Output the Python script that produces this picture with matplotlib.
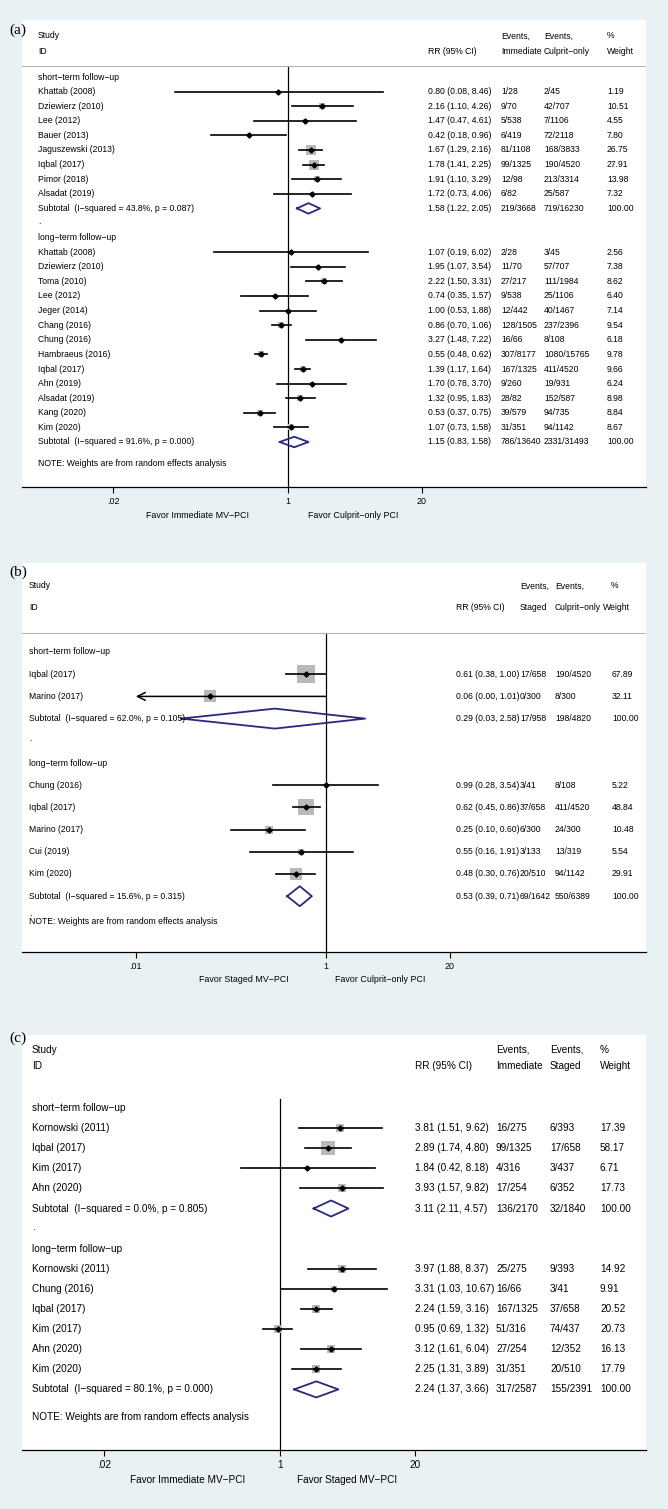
import numpy as np
import matplotlib
matplotlib.use('Agg')
import matplotlib.pyplot as plt
from matplotlib import transforms

plt.rcParams['font.family'] = ['Liberation Sans', 'DejaVu Sans']

M = '\u2212'  # Stata draws hyphens as minus signs

# ---------------- panel (a): immediate MV-PCI vs culprit-only ----------------
a_short_names = ['Khattab (2008)', 'Dziewierz (2010)', 'Lee (2012)', 'Bauer (2013)',
                 'Jaguszewski (2013)', 'Iqbal (2017)', 'Pimor (2018)', 'Alsadat (2019)']
a_short_rr = [0.80, 2.16, 1.47, 0.42, 1.67, 1.78, 1.91, 1.72]
a_short_lo = [0.08, 1.10, 0.47, 0.18, 1.29, 1.41, 1.10, 0.73]
a_short_hi = [8.46, 4.26, 4.61, 0.96, 2.16, 2.25, 3.29, 4.06]
a_short_ev1 = ['1/28', '9/70', '5/538', '6/419', '81/1108', '99/1325', '12/98', '6/82']
a_short_ev2 = ['2/45', '42/707', '7/1106', '72/2118', '168/3833', '190/4520', '213/3314', '25/587']
a_short_w = [1.19, 10.51, 4.55, 7.80, 26.75, 27.91, 13.98, 7.32]
a_short_sub = ['Subtotal  (I' + M + 'squared = 43.8%, p = 0.087)', 1.58, 1.22, 2.05, '219/3668', '719/16230']

a_long_names = ['Khattab (2008)', 'Dziewierz (2010)', 'Toma (2010)', 'Lee (2012)', 'Jeger (2014)',
                'Chang (2016)', 'Chung (2016)', 'Hambraeus (2016)', 'Iqbal (2017)', 'Ahn (2019)',
                'Alsadat (2019)', 'Kang (2020)', 'Kim (2020)']
a_long_rr = [1.07, 1.95, 2.22, 0.74, 1.00, 0.86, 3.27, 0.55, 1.39, 1.70, 1.32, 0.53, 1.07]
a_long_lo = [0.19, 1.07, 1.50, 0.35, 0.53, 0.70, 1.48, 0.48, 1.17, 0.78, 0.95, 0.37, 0.73]
a_long_hi = [6.02, 3.54, 3.31, 1.57, 1.88, 1.06, 7.22, 0.62, 1.64, 3.70, 1.83, 0.75, 1.58]
a_long_ev1 = ['2/28', '11/70', '27/217', '9/538', '12/442', '128/1505', '16/66', '307/8177',
              '167/1325', '9/260', '28/82', '39/579', '31/351']
a_long_ev2 = ['3/45', '57/707', '111/1984', '25/1106', '40/1467', '237/2396', '8/108', '1080/15765',
              '411/4520', '19/931', '152/587', '94/735', '94/1142']
a_long_w = [2.56, 7.38, 8.62, 6.40, 7.14, 9.54, 6.18, 9.78, 9.66, 6.24, 8.98, 8.84, 8.67]
a_long_sub = ['Subtotal  (I' + M + 'squared = 91.6%, p = 0.000)', 1.15, 0.83, 1.58, '786/13640', '2331/31493']

# ---------------- panel (b): staged MV-PCI vs culprit-only ----------------
b_short_names = ['Iqbal (2017)', 'Marino (2017)']
b_short_rr = [0.61, 0.06]
b_short_lo = [0.38, 0.00]
b_short_hi = [1.00, 1.01]
b_short_ev1 = ['17/658', '0/300']
b_short_ev2 = ['190/4520', '8/300']
b_short_w = [67.89, 32.11]
b_short_sub = ['Subtotal  (I' + M + 'squared = 62.0%, p = 0.105)', 0.29, 0.03, 2.58, '17/958', '198/4820']

b_long_names = ['Chung (2016)', 'Iqbal (2017)', 'Marino (2017)', 'Cui (2019)', 'Kim (2020)']
b_long_rr = [0.99, 0.62, 0.25, 0.55, 0.48]
b_long_lo = [0.28, 0.45, 0.10, 0.16, 0.30]
b_long_hi = [3.54, 0.86, 0.60, 1.91, 0.76]
b_long_ev1 = ['3/41', '37/658', '6/300', '3/133', '20/510']
b_long_ev2 = ['8/108', '411/4520', '24/300', '13/319', '94/1142']
b_long_w = [5.22, 48.84, 10.48, 5.54, 29.91]
b_long_sub = ['Subtotal  (I' + M + 'squared = 15.6%, p = 0.315)', 0.53, 0.39, 0.71, '69/1642', '550/6389']

# ---------------- panel (c): immediate vs staged MV-PCI ----------------
c_short_names = ['Kornowski (2011)', 'Iqbal (2017)', 'Kim (2017)', 'Ahn (2020)']
c_short_rr = [3.81, 2.89, 1.84, 3.93]
c_short_lo = [1.51, 1.74, 0.42, 1.57]
c_short_hi = [9.62, 4.80, 8.18, 9.82]
c_short_ev1 = ['16/275', '99/1325', '4/316', '17/254']
c_short_ev2 = ['6/393', '17/658', '3/437', '6/352']
c_short_w = [17.39, 58.17, 6.71, 17.73]
c_short_sub = ['Subtotal  (I' + M + 'squared = 0.0%, p = 0.805)', 3.11, 2.11, 4.57, '136/2170', '32/1840']

c_long_names = ['Kornowski (2011)', 'Chung (2016)', 'Iqbal (2017)', 'Kim (2017)', 'Ahn (2020)', 'Kim (2020)']
c_long_rr = [3.97, 3.31, 2.24, 0.95, 3.12, 2.25]
c_long_lo = [1.88, 1.03, 1.59, 0.69, 1.61, 1.31]
c_long_hi = [8.37, 10.67, 3.16, 1.32, 6.04, 3.89]
c_long_ev1 = ['25/275', '16/66', '167/1325', '51/316', '27/254', '31/351']
c_long_ev2 = ['9/393', '3/41', '37/658', '74/437', '12/352', '20/510']
c_long_w = [14.92, 9.91, 20.52, 20.73, 16.13, 17.79]
c_long_sub = ['Subtotal  (I' + M + 'squared = 80.1%, p = 0.000)', 2.24, 1.37, 3.66, '317/2587', '155/2391']

group_titles = ['short' + M + 'term follow' + M + 'up', 'long' + M + 'term follow' + M + 'up']
ticks_a = [0.02, 1, 20]
ticks_b = [0.01, 1, 20]
ticks_c = [0.02, 1, 20]

W, H = 668, 1509
BG = '#e9f1f4'
BOX = '#b9b9b9'
NAVY = '#29297d'

fig = plt.figure(figsize=(W / 100, H / 100), dpi=100, facecolor=BG)


def fx(px):
    return px / W


def fy(py):
    return 1 - py / H


def draw_panel(lay, groups, ticks, heads, favors):
    L, R = 22, 646
    top, axis_y, row0, s = lay['top'], lay['axis'], lay['row0'], lay['step']
    x1, k = lay['x1'], lay['k']
    fs = lay['fs']
    ax = fig.add_axes([fx(L), fy(axis_y), fx(R - L), (axis_y - top) / H])
    ax.set_facecolor('white')
    ax.set_xscale('log')
    ax.set_xlim(np.exp((L - x1) / k), np.exp((R - x1) / k))
    ax.set_ylim((axis_y - row0) / s, (top - row0) / s)
    for side in ['top', 'left', 'right']:
        ax.spines[side].set_visible(False)
    ax.spines['bottom'].set_linewidth(0.9)
    ax.set_yticks([])
    ax.set_xticks(ticks)
    ax.set_xticklabels(['.01' if t == 0.01 else '.02' if t == 0.02 else str(t) for t in ticks])
    ax.minorticks_off()
    ax.tick_params(axis='x', length=4, width=0.8, pad=3, labelsize=lay['tfs'])

    tr = transforms.blended_transform_factory(ax.transAxes, ax.transData)
    cols = lay['cols']

    def col(px):
        return (px - L) / (R - L)

    def row(py):
        return (py - row0) / s

    def put(px, y, txt):
        ax.text(col(px), y, txt, transform=tr, fontsize=fs, va='center')

    # header
    hy1, hy2 = row(lay['h1']), row(lay['h2'])
    put(cols[0], hy1, 'Study')
    put(cols[0], hy2, 'ID')
    put(cols[1], hy2, 'RR (95% CI)')
    hx1 = [cols[2], cols[3], lay['wh'][0]]
    hx2 = [cols[2], cols[3], lay['wh'][1]]
    for cx1, cx2, (h1, h2) in zip(hx1, hx2, heads):
        put(cx1, hy1, h1)
        put(cx2, hy2, h2)
    if lay['hline'] is not None:
        ax.axhline(row(lay['hline']), color='#b5b5b5', lw=0.8)
        vtop = row(lay['hline'])
    else:
        vtop = -0.45
    ax.plot([1, 1], [vtop, (axis_y - row0) / s], color='black', lw=0.9, zorder=1)

    tmin = min(ticks)
    r = 0
    for gi, (names, rr, lo, hi, e1, e2, w, sub) in enumerate(groups):
        put(cols[0], r, group_titles[gi])
        r += 1
        for j in range(len(names)):
            ax.scatter([rr[j]], [r], marker='s', s=(lay['box'] * np.sqrt(w[j]) * 0.72) ** 2,
                       color=BOX, lw=0, zorder=2)
            if lo[j] < tmin:
                ax.annotate('', xy=(tmin, r), xytext=(hi[j], r),
                            arrowprops=dict(arrowstyle='->', lw=1.1, color='black',
                                            mutation_scale=14, shrinkA=0, shrinkB=0), zorder=3)
            else:
                ax.plot([lo[j], hi[j]], [r, r], color='black', lw=1.2, zorder=3)
            ax.plot([rr[j]], [r], marker='D', ms=2.6, color='black', zorder=4)
            put(cols[0], r, names[j])
            put(cols[1], r, '%.2f (%.2f, %.2f)' % (rr[j], lo[j], hi[j]))
            put(cols[2], r, e1[j])
            put(cols[3], r, e2[j])
            put(cols[4], r, '%.2f' % w[j])
            r += 1
        lab, srr, slo, shi, se1, se2 = sub
        hh = lay['dh']
        ax.plot([slo, srr, shi, srr, slo], [r, r - hh, r, r + hh, r], color=NAVY, lw=1.3, zorder=3)
        put(cols[0], r, lab)
        put(cols[1], r, '%.2f (%.2f, %.2f)' % (srr, slo, shi))
        put(cols[2], r, se1)
        put(cols[3], r, se2)
        put(cols[4], r, '100.00')
        r += 1
        if gi == 0:
            put(cols[0], r - 0.1, '.')
            r += 1
    ny = row(lay['note'])
    put(cols[0], ny - lay['dot'], '.')
    put(cols[0], ny, 'NOTE: Weights are from random effects analysis')

    # favour labels under the axis
    for cx, txt in zip(lay['fav_x'], favors):
        fig.text(fx(cx), fy(lay['fav_y']), txt, fontsize=lay['tfs'], ha='center', va='center')
    fig.text(fx(9), fy(lay['lab_y']), lay['label'], fontsize=11, va='center',
             family=['Liberation Serif', 'DejaVu Serif'])
    return ax


lay_a = dict(top=20, axis=487, row0=77, step=14.6, x1=288, k=44.7, fs=6.2, tfs=6.4,
             h1=36, h2=51, hline=66, note=464, dot=0.35, box=1.75, dh=0.36,
             cols=[38, 428, 501, 544, 607], wh=[607, 607],
             fav_x=[198, 353], fav_y=516, lab_y=30, label='(a)')
draw_panel(lay_a,
           [(a_short_names, a_short_rr, a_short_lo, a_short_hi, a_short_ev1, a_short_ev2, a_short_w, a_short_sub),
            (a_long_names, a_long_rr, a_long_lo, a_long_hi, a_long_ev1, a_long_ev2, a_long_w, a_long_sub)],
           ticks_a, [('Events,', 'Immediate'), ('Events,', 'Culprit' + M + 'only'), ('%', 'Weight')],
           ['Favor Immediate MV' + M + 'PCI', 'Favor Culprit' + M + 'only PCI'])

lay_b = dict(top=563, axis=952, row0=652, step=22.2, x1=326, k=41.3, fs=6.2, tfs=6.4,
             h1=586, h2=607, hline=633, note=921, dot=0.35, box=2.18, dh=0.45,
             cols=[29, 456, 520, 555, 612], wh=[611, 603],
             fav_x=[244, 380], fav_y=980, lab_y=572, label='(b)')
draw_panel(lay_b,
           [(b_short_names, b_short_rr, b_short_lo, b_short_hi, b_short_ev1, b_short_ev2, b_short_w, b_short_sub),
            (b_long_names, b_long_rr, b_long_lo, b_long_hi, b_long_ev1, b_long_ev2, b_long_w, b_long_sub)],
           ticks_b, [('Events,', 'Staged'), ('Events,', 'Culprit' + M + 'only'), ('%', 'Weight')],
           ['Favor Staged MV' + M + 'PCI', 'Favor Culprit' + M + 'only PCI'])

lay_c = dict(top=1035, axis=1450, row0=1108, step=20.1, x1=280, k=45.0, fs=7.2, tfs=7.2,
             h1=1050, h2=1066, hline=None, note=1417, dot=0.3, box=1.84, dh=0.4,
             cols=[32, 415, 496, 550, 600], wh=[600, 600],
             fav_x=[188, 347], fav_y=1480, lab_y=1038, label='(c)')
draw_panel(lay_c,
           [(c_short_names, c_short_rr, c_short_lo, c_short_hi, c_short_ev1, c_short_ev2, c_short_w, c_short_sub),
            (c_long_names, c_long_rr, c_long_lo, c_long_hi, c_long_ev1, c_long_ev2, c_long_w, c_long_sub)],
           ticks_c, [('Events,', 'Immediate'), ('Events,', 'Staged'), ('%', 'Weight')],
           ['Favor Immediate MV' + M + 'PCI', 'Favor Staged MV' + M + 'PCI'])

fig.savefig('out.png', dpi=100, facecolor=BG)
